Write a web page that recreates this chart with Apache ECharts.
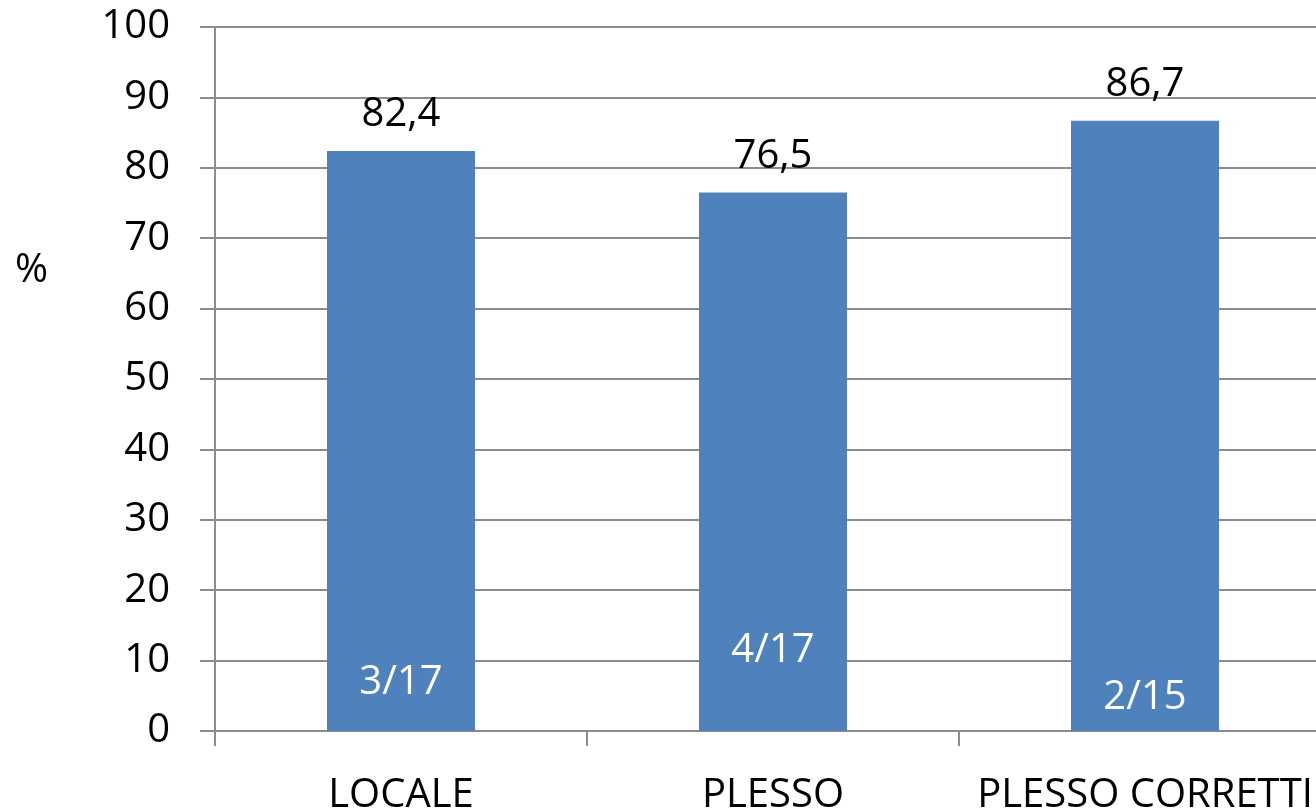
<!DOCTYPE html>
<html>
<head>
<meta charset="utf-8">
<script src="https://cdn.jsdelivr.net/npm/echarts@6/dist/echarts.min.js"></script>
<style>
html,body{margin:0;padding:0;background:#fff;}
#chart{width:1316px;height:810px;}
</style>
</head>
<body>
<div id="chart"></div>
<script>
var categories = ['LOCALE', 'PLESSO', 'PLESSO CORRETTI'];
var percentValues = [82.4, 76.5, 86.7];
var fractionLabels = ['3/17', '4/17', '2/15'];
var yTicks = [0, 10, 20, 30, 40, 50, 60, 70, 80, 90, 100];

var FONT = 'Open Sans';
var innerLabelDistance = [28, 60, 13];

var chart = echarts.init(document.getElementById('chart'), null, {renderer: 'canvas'});
var option = {
  animation: false,
  backgroundColor: '#ffffff',
  grid: {left: 215, top: 27, width: 1116, height: 704, containLabel: false, outerBoundsMode: 'none'},
  graphic: [{
    type: 'text', left: 15, top: 251,
    style: {text: '%', fontFamily: FONT, fontSize: 40, fill: '#000'}
  }],
  xAxis: {
    type: 'category',
    data: categories,
    boundaryGap: true,
    axisLine: {show: true, lineStyle: {color: '#8c8c8c', width: 2}},
    axisTick: {show: true, length: 15, lineStyle: {color: '#8c8c8c', width: 2}},
    axisLabel: {color: '#000', fontFamily: FONT, fontSize: 40, margin: 45, interval: 0, hideOverlap: false}
  },
  yAxis: {
    type: 'value',
    min: yTicks[0], max: yTicks[yTicks.length - 1], interval: 10,
    axisLine: {show: true, lineStyle: {color: '#8c8c8c', width: 2}},
    axisTick: {show: true, length: 15, lineStyle: {color: '#8c8c8c', width: 2}},
    splitLine: {show: true, lineStyle: {color: '#8c8c8c', width: 2}},
    axisLabel: {color: '#000', fontFamily: FONT, fontSize: 40, margin: 45}
  },
  series: [{
    type: 'bar',
    data: percentValues,
    barWidth: 148,
    itemStyle: {color: '#4F81BD'},
    label: {
      show: true, position: 'top', distance: 16,
      color: '#000', fontFamily: FONT, fontSize: 40,
      formatter: function (p) { return String(p.value).replace('.', ','); }
    },
    z: 2
  }, {
    type: 'bar',
    data: percentValues.map(function (v, i) {
      return {value: v, label: {distance: innerLabelDistance[i]}};
    }),
    barWidth: 148,
    barGap: '-100%',
    itemStyle: {color: 'rgba(0,0,0,0)'},
    label: {
      show: true, position: 'insideBottom',
      color: '#fff', fontFamily: FONT, fontSize: 40,
      formatter: function (p) { return fractionLabels[p.dataIndex]; }
    },
    z: 3
  }]
};
chart.setOption(option);
</script>
</body>
</html>
